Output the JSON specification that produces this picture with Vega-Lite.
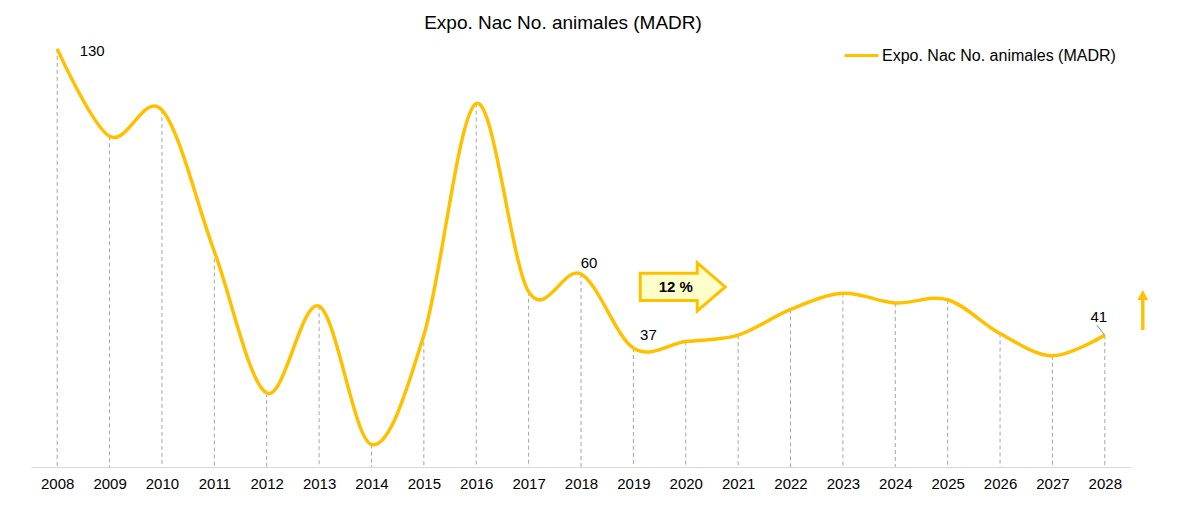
{
  "$schema": "https://vega.github.io/schema/vega-lite/v6.json",
  "width": 1100,
  "height": 431,
  "autosize": {"type": "none"},
  "padding": {"left": 31, "top": 36, "right": 68, "bottom": 43},
  "background": "white",
  "title": {"text": "Expo. Nac No. animales (MADR)", "fontSize": 19, "font": "Liberation Sans", "fontWeight": "normal", "color": "#000000", "dx": -18, "offset": 3},
  "config": {"view": {"stroke": null}, "font": "Liberation Sans"},
  "datasets": {
    "main": [
      {"year": "2008", "value": 130},
      {"year": "2009", "value": 102.8},
      {"year": "2010", "value": 111},
      {"year": "2011", "value": 67},
      {"year": "2012", "value": 23},
      {"year": "2013", "value": 50},
      {"year": "2014", "value": 7},
      {"year": "2015", "value": 41},
      {"year": "2016", "value": 113},
      {"year": "2017", "value": 54.5},
      {"year": "2018", "value": 60},
      {"year": "2019", "value": 37},
      {"year": "2020", "value": 39},
      {"year": "2021", "value": 41},
      {"year": "2022", "value": 49},
      {"year": "2023", "value": 54},
      {"year": "2024", "value": 51},
      {"year": "2025", "value": 52},
      {"year": "2026", "value": 41.5},
      {"year": "2027", "value": 34.6},
      {"year": "2028", "value": 41}
    ],
    "note": [{"year": "2020", "value": 56, "label": "12 %"}],
    "up": [{"year": "2028", "value": 48.8}]
  },
  "data": {"name": "main"},
  "encoding": {
    "x": {
      "field": "year", "type": "ordinal",
      "scale": {"type": "point", "padding": 0.5},
      "axis": {"title": null, "labelAngle": 0, "ticks": false, "grid": false, "domainColor": "#d9d9d9", "labelFontSize": 15, "labelColor": "#000000", "labelPadding": 9, "labelFont": "Liberation Sans"}
    },
    "y": {"field": "value", "type": "quantitative", "scale": {"domain": [0, 134], "nice": false, "zero": true}, "axis": null}
  },
  "layer": [
    {
      "mark": {"type": "rule", "strokeDash": [4, 3], "color": "#a6a6a6", "strokeWidth": 1},
      "encoding": {"y2": {"datum": 0}}
    },
    {
      "mark": {"type": "line", "interpolate": "cardinal", "tension": 0, "strokeWidth": 3.5},
      "encoding": {
        "color": {
          "datum": "Expo. Nac No. animales (MADR)",
          "scale": {"range": ["#FFC000"]},
          "legend": {"orient": "none", "legendX": 812, "legendY": 1, "title": null, "symbolType": "stroke", "symbolSize": 1156, "symbolStrokeWidth": 3, "labelFontSize": 16, "labelFont": "Liberation Sans", "labelColor": "#000000", "labelOffset": 2, "labelLimit": 400}
        }
      }
    },
    {
      "transform": [{"filter": "datum.year == '2008'"}],
      "mark": {"type": "text", "dx": 35, "dy": 2, "fontSize": 15, "color": "#000000"},
      "encoding": {"text": {"field": "value"}}
    },
    {
      "transform": [{"filter": "datum.year == '2018'"}],
      "mark": {"type": "text", "dx": 8, "dy": -11, "fontSize": 15, "color": "#000000"},
      "encoding": {"text": {"field": "value"}}
    },
    {
      "transform": [{"filter": "datum.year == '2019'"}],
      "mark": {"type": "text", "dx": 15, "dy": -13, "fontSize": 15, "color": "#000000"},
      "encoding": {"text": {"field": "value"}}
    },
    {
      "transform": [{"filter": "datum.year == '2028'"}],
      "mark": {"type": "text", "dx": -6, "dy": -18, "fontSize": 15, "color": "#000000"},
      "encoding": {"text": {"field": "value"}}
    },
    {
      "transform": [{"filter": "datum.year == '2028'"}],
      "mark": {"type": "rule", "color": "#8c8c8c", "strokeWidth": 1, "x2Offset": -8, "y2Offset": -10},
      "encoding": {"x2": {"field": "year"}, "y2": {"field": "value"}}
    },
    {
      "data": {"name": "note"},
      "mark": {"type": "point", "shape": "M-1,-0.318L0.341,-0.318L0.341,-0.565L1,0L0.341,0.565L0.341,0.318L-1,0.318Z", "size": 7225, "filled": true, "fill": "#FFFFCC", "stroke": "#FFC000", "strokeWidth": 3, "opacity": 1, "xOffset": -3}
    },
    {
      "data": {"name": "note"},
      "mark": {"type": "text", "fontSize": 15, "fontWeight": "bold", "color": "#000000", "dx": -10},
      "encoding": {"text": {"field": "label"}}
    },
    {
      "data": {"name": "up"},
      "mark": {"type": "point", "shape": "M0,-1L0.27,-0.5L0.085,-0.5L0.085,1L-0.085,1L-0.085,-0.5L-0.27,-0.5Z", "size": 1600, "filled": true, "fill": "#FFC000", "strokeWidth": 0, "opacity": 1, "xOffset": 38}
    }
  ]
}
